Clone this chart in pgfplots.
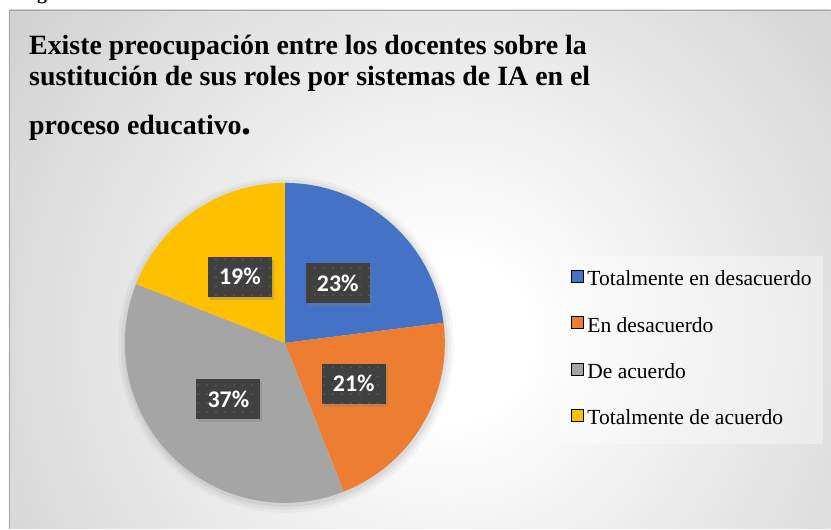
\documentclass[border=0pt]{standalone}
\usepackage{fontspec}
\setmainfont{Liberation Serif}
\newfontfamily\carlito{Carlito}
\usepackage{pgfplots}
\usepackage{pgfplotstable}
\pgfplotsset{compat=1.18}
\usetikzlibrary{patterns.meta,shadows}

\definecolor{cblue}{HTML}{4472C4}
\definecolor{corange}{HTML}{ED7D31}
\definecolor{cgray}{HTML}{A5A5A5}
\definecolor{cyellow}{HTML}{FFC000}
\definecolor{boxgray}{HTML}{404040}
\definecolor{dotgray}{HTML}{5A5A5A}
\definecolor{bggray}{HTML}{BEBEBE}

% la sombra se ajusta a 100bp x 100bp: 50bp = radio del circulo
\pgfdeclareradialshading{bgshade}{\pgfpointorigin}{color(0bp)=(white); color(3bp)=(white); color(31bp)=(bggray); color(50bp)=(bggray)}

% porcentajes del grafico
\pgfplotstableread[col sep=comma]{
cat,value
Totalmente en desacuerdo,23
En desacuerdo,21
De acuerdo,37
Totalmente de acuerdo,19
}\piedata

\tikzset{
  labelbox/.style={drop shadow={shadow xshift=2bp, shadow yshift=-3bp, opacity=0.35},
    preaction={fill=boxgray}, pattern={Dots[radius=1bp, distance=9bp]}, pattern color=dotgray,
    minimum width=64bp, minimum height=40bp, inner sep=0pt, text=white,
    font=\carlito\bfseries\fontsize{24}{24}\selectfont},
}

\begin{document}
\begin{tikzpicture}
\begin{axis}[
  width=831bp, height=529bp, scale only axis,
  xmin=0, xmax=831, ymin=0, ymax=529,
  hide axis, clip=false,
  legend style={at={(axis description cs:0.6739,0.5161)}, anchor=north west,
    fill=white, fill opacity=0.35, text opacity=1, draw=none,
    font=\fontsize{21.6}{25}\selectfont,
    nodes={inner sep=0pt, text height=15bp, text depth=5bp},
    row sep=25.6bp, column sep=4bp, inner xsep=11bp, inner ysep=14bp},
  legend cell align=left,
  legend image code/.code={\fill[#1, fill opacity=1] (0bp,-1.5bp) rectangle (12bp,10.5bp);},
]
  % fondo con degradado radial
  \begin{scope}
    \clip (axis cs:9,0) rectangle (axis cs:831,519);
    \shade[shading=bgshade] (axis cs:450,190) circle[radius=600bp];
  \end{scope}
  \draw[gray!70, line width=0.6bp] (axis cs:9,0) -- (axis cs:9,519) -- (axis cs:831,519);
  \begin{scope}
    \clip (axis cs:0,519) rectangle (axis cs:831,529);
    \node[anchor=base west, inner sep=0pt, font=\bfseries\fontsize{20}{20}\selectfont] at (axis cs:37,529) {g};
  \end{scope}

  % titulo
  \node[anchor=base west, inner sep=0pt, font=\bfseries\fontsize{28}{30}\selectfont] at (axis cs:29,474.7) {Existe preocupación entre los docentes sobre la};
  \node[anchor=base west, inner sep=0pt, font=\bfseries\fontsize{28}{30}\selectfont] at (axis cs:29,443.3) {sustitución de sus roles por sistemas de IA en el};
  \node[anchor=base west, inner sep=0pt, font=\bfseries\fontsize{28}{30}\selectfont] at (axis cs:29,394) {proceso educativo{\fontsize{40}{40}\selectfont.}};

  % sombra suave del pastel
  \foreach \r/\o in {168/0.03,165/0.04,162/0.05}{
    \edef\temp{\noexpand\fill[black, opacity=\o] (axis cs:286,184) circle[radius=\r bp];}
    \temp
  }

  % sectores
  \xdef\angA{90}
  \foreach \i/\col in {0/cblue,1/corange,2/cgray,3/cyellow}{
    \pgfplotstablegetelem{\i}{value}\of\piedata
    \let\val\pgfplotsretval
    \pgfmathsetmacro\angB{\angA-3.6*\val}
    \edef\temp{\noexpand\fill[\col] (axis cs:285,186) -- ++(\angA:160bp) arc[start angle=\angA, end angle=\angB, radius=160bp] -- cycle;}
    \temp
    \xdef\angA{\angB}
  }

  % etiquetas
  \xdef\angA{90}
  \foreach \i in {0,1,2,3}{
    \pgfplotstablegetelem{\i}{value}\of\piedata
    \let\val\pgfplotsretval
    \pgfmathsetmacro\angB{\angA-3.6*\val}
    \pgfmathsetmacro\angM{(\angA+\angB)/2}
    \edef\temp{\noexpand\node[labelbox, shift={(\angM:80bp)}] at (axis cs:285,186) {\val\noexpand\%};}
    \temp
    \xdef\angA{\angB}
  }

  \addlegendimage{fill=cblue}
  \addlegendentry{Totalmente en desacuerdo}
  \addlegendimage{fill=corange}
  \addlegendentry{En desacuerdo}
  \addlegendimage{fill=cgray}
  \addlegendentry{De acuerdo}
  \addlegendimage{fill=cyellow}
  \addlegendentry{Totalmente de acuerdo}
\end{axis}
\end{tikzpicture}
\end{document}
